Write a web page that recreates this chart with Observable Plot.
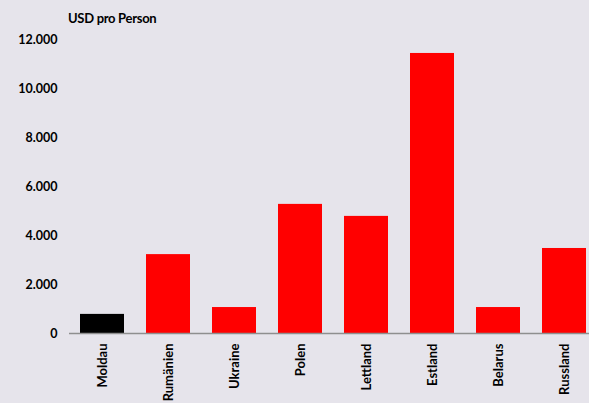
<!DOCTYPE html>
<html>
<head>
<meta charset="utf-8">
<script src="https://cdn.jsdelivr.net/npm/d3@7"></script>
<script src="https://cdn.jsdelivr.net/npm/@observablehq/plot@0.6"></script>
<style>
  html, body { margin: 0; padding: 0; background: #e6e4eb; overflow: hidden; width: 589px; height: 403px; }
  #lbl { height: 28px; position: relative; font-family: Lato, sans-serif; font-weight: bold; font-size: 13px; color: #000; }
  #lbl span { position: absolute; left: 68px; top: 10px; letter-spacing: -0.3px; line-height: 16px; }
  svg { display: block; max-width: none !important; }
</style>
</head>
<body>
<div id="lbl"><span>USD pro Person</span></div>
<div id="chart"></div>
<script>
const countries = ["Moldau", "Rumänien", "Ukraine", "Polen", "Lettland", "Estland", "Belarus", "Russland"];
const values = [780, 3220, 1060, 5270, 4780, 11430, 1060, 3470];
const colors = ["#000000", "#ff0000", "#ff0000", "#ff0000", "#ff0000", "#ff0000", "#ff0000", "#ff0000"];
const yTicks = [0, 2000, 4000, 6000, 8000, 10000, 12000];

const data = countries.map((c, i) => ({country: c, value: values[i], color: colors[i]}));
const fmt = d => d3.format(",")(d).replace(/,/g, ".");

const chart = Plot.plot({
  width: 598,
  height: 375,
  marginLeft: 69,
  marginRight: 0,
  marginTop: 11,
  marginBottom: 70,
  style: {background: "transparent", fontFamily: "Lato, sans-serif", fontSize: "12px", fontWeight: "bold", color: "#000", maxWidth: "none"},
  x: {domain: countries, paddingInner: 0.33, paddingOuter: 0.165, label: null},
  y: {domain: [0, 12000], label: null},
  marks: [
    Plot.barY(data, {x: "country", y: "value", fill: "color"}),
    Plot.ruleY([0], {stroke: "#8f8f8f", strokeWidth: 1.5}),
    Plot.axisY({ticks: yTicks, tickFormat: fmt, tickSize: 0, tickPadding: 12, label: null, fontSize: 12.5, fontWeight: "bold"}),
    Plot.axisX({tickRotate: -90, tickSize: 0, tickPadding: 10, label: null, fontSize: 13, fontWeight: "bold"})
  ]
});
document.getElementById("chart").appendChild(chart);
</script>
</body>
</html>
